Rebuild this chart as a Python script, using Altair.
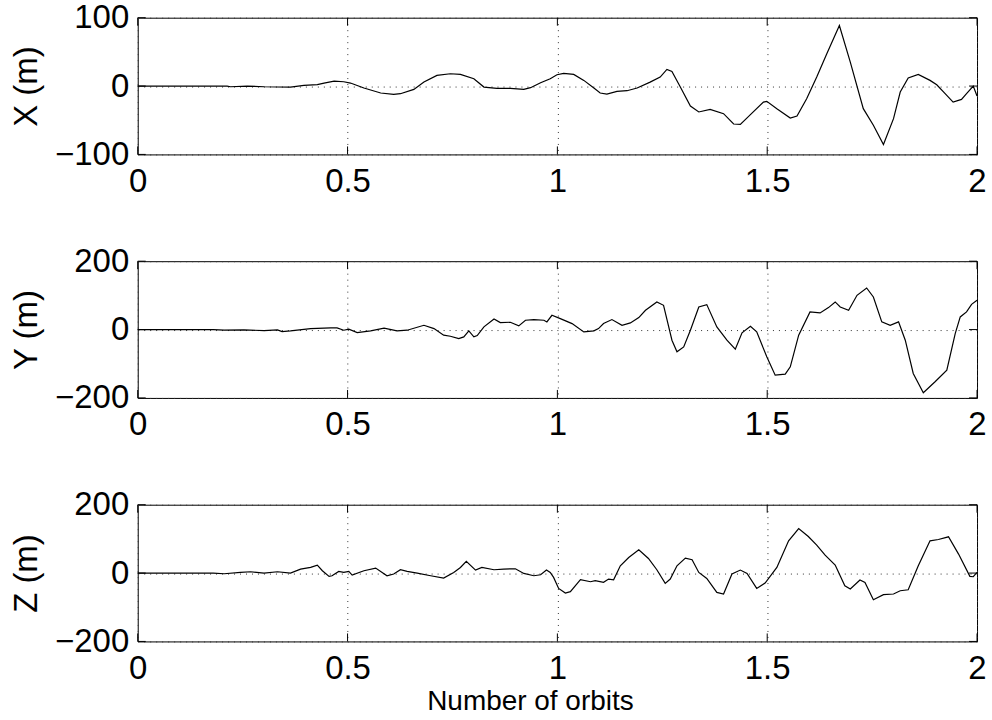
import altair as alt
import pandas as pd

# ---- data ----
x_orb = [0, 0.1, 0.213, 0.221, 0.261, 0.301, 0.364, 0.396, 0.428, 0.444, 0.468, 0.491, 0.507, 0.539,
         0.579, 0.610, 0.626, 0.658, 0.682, 0.713, 0.745, 0.769, 0.801, 0.825, 0.856, 0.888, 0.920,
         0.936, 0.960, 0.983, 0.999, 1.015, 1.039, 1.063, 1.087, 1.102, 1.118, 1.142, 1.166, 1.190,
         1.221, 1.245, 1.261, 1.273, 1.293, 1.317, 1.337, 1.364, 1.396, 1.420, 1.436, 1.460, 1.491,
         1.499, 1.523, 1.555, 1.571, 1.594, 1.618, 1.642, 1.672, 1.698, 1.729, 1.753, 1.777, 1.801,
         1.817, 1.836, 1.860, 1.888, 1.904, 1.924, 1.943, 1.963, 1.975, 1.991, 2.0]
x_val = [0, 0, 0, -1, 0, -1, -1.5, 1, 2, 4.4, 7.3, 6.3, 4.4, -2.9,
         -10.2, -12.2, -11.2, -4.9, 5.8, 15.6, 18, 17, 10.7, -1.5, -3.4, -3.4, -4.9,
         -2.4, 4.9, 10.7, 16.5, 18.5, 17, 8.3, -2.9, -10.2, -11.7, -7.8, -6.8, -2.9,
         5.8, 13.1, 24.3, 21.4, -1.5, -29.2, -37.9, -34.1, -40.4, -55.5, -56, -41.8, -23.4,
         -22.4, -33.1, -46.7, -43.8, -18.5, 13.1, 47.2, 88.6, 35, -33.1, -57.4, -85.6, -47.7,
         -8.8, 11.7, 17, 8.3, 1.9, -11.2, -23.4, -19.5, -11.2, 0, -14.6]

y_orb = [0, 0.18, 0.206, 0.253, 0.301, 0.333, 0.344, 0.364, 0.412, 0.460, 0.475, 0.491, 0.503, 0.523,
         0.555, 0.587, 0.618, 0.642, 0.682, 0.706, 0.729, 0.745, 0.765, 0.777, 0.789, 0.801, 0.809,
         0.825, 0.849, 0.864, 0.888, 0.908, 0.924, 0.944, 0.968, 0.975, 0.987, 1.007, 1.035, 1.063,
         1.087, 1.098, 1.110, 1.130, 1.154, 1.174, 1.194, 1.210, 1.237, 1.253, 1.273, 1.285, 1.301,
         1.317, 1.337, 1.356, 1.380, 1.404, 1.424, 1.440, 1.460, 1.475, 1.499, 1.519, 1.543, 1.555,
         1.575, 1.602, 1.626, 1.646, 1.662, 1.674, 1.694, 1.714, 1.737, 1.753, 1.773, 1.793, 1.813,
         1.829, 1.848, 1.872, 1.900, 1.928, 1.948, 1.960, 1.975, 1.987, 2.0]
y_val = [0, 0, -1.9, -1, -2.9, -1, -5.8, -3.9, 2.9, 4.9, 4.9, -1.9, 1, -8.8,
         -3.9, 3.9, -3.9, -1.9, 12.6, 2.9, -16.5, -19.5, -26.3, -21.4, -3.9, -21.4, -17.5,
         7.8, 31.1, 20.4, 21.4, 10.7, 27.2, 29.2, 27.2, 22.4, 41.8, 32.1, 17.5, -6.8,
         -3.9, 2.9, 17.5, 29.2, 12.6, 19.5, 35, 56.4, 80.8, 71, -31.1, -65.2, -50.6,
         -1.9, 66.2, 73, 7.8, -31.1, -57.4, -9.7, 9.7, -6.8, -79.8, -133.3, -130.4, -109,
         -16.5, 51.6, 48.7, 64.2, 80.8, 66.2, 56.4, 100.2, 121.6, 95.4, 22.4, 12.6, 22.4,
         -31.1, -128.4, -184.9, -152.8, -118.7, -11.7, 37, 51.6, 73.9, 85.6]

z_orb = [0, 0.18, 0.206, 0.245, 0.269, 0.301, 0.333, 0.364, 0.388, 0.412, 0.428, 0.440, 0.456, 0.463,
         0.479, 0.491, 0.503, 0.511, 0.539, 0.567, 0.594, 0.610, 0.626, 0.642, 0.666, 0.698, 0.729,
         0.753, 0.769, 0.783, 0.805, 0.820, 0.849, 0.872, 0.900, 0.920, 0.944, 0.960, 0.974, 0.983,
         0.991, 1.003, 1.019, 1.031, 1.055, 1.079, 1.090, 1.110, 1.122, 1.134, 1.150, 1.170, 1.194,
         1.217, 1.237, 1.257, 1.269, 1.285, 1.305, 1.321, 1.337, 1.356, 1.380, 1.396, 1.416, 1.436,
         1.452, 1.475, 1.495, 1.523, 1.551, 1.575, 1.598, 1.618, 1.638, 1.662, 1.685, 1.698, 1.721,
         1.733, 1.753, 1.777, 1.801, 1.817, 1.836, 1.860, 1.888, 1.908, 1.932, 1.956, 1.983, 1.991, 2.0]
z_val = [0, 0, -1.9, 1.9, 3.9, 0, 3.9, 0, 11.7, 16.5, 23.4, 6.8, -9.7, -7.8,
         4.9, 1.9, 4.9, -5.8, 6.8, 14.6, -7.8, -2.9, 9.7, 4.9, 0, -7.8, -14.6,
         1.9, 16.5, 34.1, 8.8, 16.5, 9.7, 11.7, 12.6, -1, -7.8, -4.9, 8.8, 2,
         -12.6, -44.8, -58.4, -54.5, -19.5, -25.3, -22.4, -27.2, -17.5, -19.5, 21.4, 45.7, 68.1,
         42.8, 9.7, -30.2, -17.5, 21.4, 43.8, 38.9, 1.9, -15.6, -56.4, -61.3, -2.9, 8.8,
         -1, -44.8, -29.2, 16.5, 94.4, 130.4, 107, 81.7, 52.5, 23.4, -37, -46.7, -20.4,
         -27.2, -77.8, -63.2, -61.3, -51.6, -48.7, 21.4, 94.4, 98.3, 106.1, 55.5, -9.7, -10.7, 1.9]

x_ticks = [0, 0.5, 1, 1.5, 2]
titles = ["X (m)", "Y (m)", "Z (m)"]
limits = [100, 200, 200]

W, H = 841, 137
FONT = "Liberation Sans"
TL = 8
LFS = 33


def panel(xs, vs, lim, ytitle, last):
    df = pd.DataFrame({"t": xs, "v": vs})
    yt = [-lim, 0, lim]
    xscale = alt.Scale(domain=[0, 2], nice=False, zero=False)
    yscale = alt.Scale(domain=[-lim, lim], nice=False)
    xaxis = alt.Axis(values=x_ticks, grid=True, gridDash=[1, 5], gridColor="#333", gridWidth=1,
                     ticks=False, domain=False, labelPadding=11, labelFlush=False, labelOverlap=False,
                     labelFontSize=LFS, labelFont=FONT, labelColor="black",
                     title="Number of orbits" if last else None,
                     titleFontSize=28, titleFont=FONT, titleFontWeight="normal", titleColor="black",
                     titleX=393, titleY=68, titleBaseline="alphabetic", titleAlign="center",
                     format="~g")
    yaxis = alt.Axis(values=yt, grid=True, gridDash=[1, 5], gridColor="#333", gridWidth=1,
                     ticks=False, domain=False, labelPadding=9, labelFlush=False, labelOverlap=False,
                     labelFontSize=LFS, labelFont=FONT, labelColor="black",
                     title=ytitle, titleFontSize=33, titleFont=FONT, titleFontWeight="normal",
                     titleColor="black", titleX=-94, titleY=H / 2, titleAngle=270,
                     titleBaseline="bottom", titleAlign="center")
    line = alt.Chart(df).mark_line(color="black", strokeWidth=1.2, interpolate="linear").encode(
        x=alt.X("t:Q", scale=xscale, axis=xaxis),
        y=alt.Y("v:Q", scale=yscale, axis=yaxis),
    )
    xt = pd.DataFrame({"t": x_ticks})
    yv = pd.DataFrame({"v": yt})
    tb = alt.Chart(xt).mark_rule(color="black", strokeWidth=1).encode(
        x=alt.X("t:Q", scale=xscale), y=alt.value(H), y2=alt.value(H - TL))
    tt = alt.Chart(xt).mark_rule(color="black", strokeWidth=1).encode(
        x=alt.X("t:Q", scale=xscale), y=alt.value(0), y2=alt.value(TL))
    tl = alt.Chart(yv).mark_rule(color="black", strokeWidth=1).encode(
        y=alt.Y("v:Q", scale=yscale), x=alt.value(0), x2=alt.value(TL))
    tr = alt.Chart(yv).mark_rule(color="black", strokeWidth=1).encode(
        y=alt.Y("v:Q", scale=yscale), x=alt.value(W), x2=alt.value(W - TL))
    return alt.layer(line, tb, tt, tl, tr).properties(width=W, height=H)


p1 = panel(x_orb, x_val, limits[0], titles[0], False)
p2 = panel(y_orb, y_val, limits[1], titles[1], False)
p3 = panel(z_orb, z_val, limits[2], titles[2], True)

chart = alt.vconcat(p1, p2, p3, spacing=107, bounds="flush").properties(
    padding={"left": 10, "top": 0, "right": 5, "bottom": 6},
    background="white",
).configure_view(stroke="black", strokeWidth=1)

chart.save("out.html", embed_options={"renderer": "svg", "actions": False})
